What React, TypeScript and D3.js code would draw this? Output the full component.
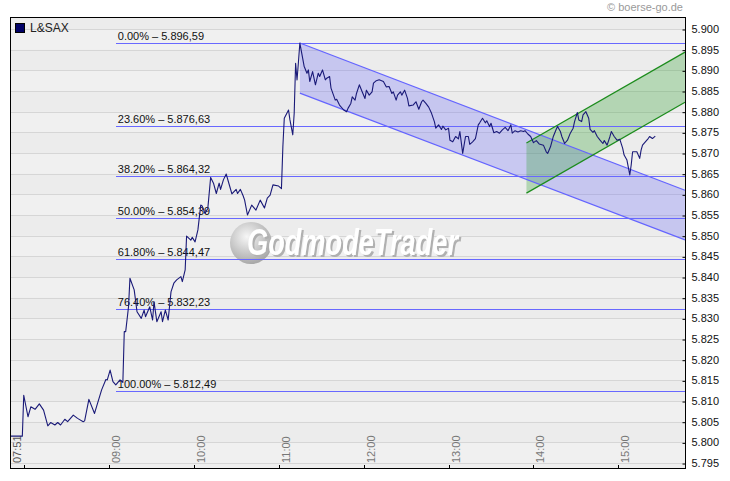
import { useEffect, useRef } from "react"
import * as d3 from "d3"

// L&SAX intraday
const times = [
  "07:51", "07:59", "08:00", "08:03", "08:05", "08:08", "08:11", "08:14", "08:17", "08:19",
  "08:22", "08:24", "08:26", "08:29", "08:31", "08:35", "08:38", "08:42", "08:43", "08:46",
  "08:50", "08:52", "08:55", "08:58", "08:59", "09:01", "09:03", "09:05", "09:08", "09:10",
  "09:11", "09:12", "09:14", "09:15", "09:18", "09:20", "09:23", "09:25", "09:26", "09:29",
  "09:31", "09:32", "09:34", "09:37", "09:38", "09:40", "09:42", "09:44", "09:46", "09:48",
  "09:51", "09:52", "09:54", "09:55", "09:58", "09:59", "10:01", "10:03", "10:05", "10:06",
  "10:08", "10:10", "10:12", "10:14", "10:16", "10:18", "10:19", "10:21", "10:23", "10:25",
  "10:27", "10:30", "10:31", "10:33", "10:35", "10:36", "10:38", "10:41", "10:44", "10:47",
  "10:50", "10:52", "10:54", "10:56", "11:00", "11:02", "11:03", "11:04", "11:07", "11:08",
  "11:10", "11:11", "11:12", "11:13", "11:14", "11:15", "11:17", "11:18", "11:20", "11:21",
  "11:22", "11:24", "11:26", "11:28", "11:29", "11:31", "11:33", "11:34", "11:36", "11:37",
  "11:40", "11:41", "11:43", "11:46", "11:48", "11:49", "11:51", "11:52", "11:54", "11:55",
  "11:57", "11:59", "12:01", "12:02", "12:04", "12:06", "12:07", "12:09", "12:11", "12:14",
  "12:16", "12:18", "12:20", "12:21", "12:23", "12:24", "12:26", "12:27", "12:29", "12:31",
  "12:32", "12:35", "12:36", "12:37", "12:39", "12:41", "12:42", "12:44", "12:46", "12:48",
  "12:50", "12:51", "12:53", "12:55", "12:56", "12:58", "13:00", "13:01", "13:03", "13:05",
  "13:07", "13:08", "13:10", "13:12", "13:14", "13:15", "13:17", "13:19", "13:21", "13:22",
  "13:24", "13:26", "13:27", "13:29", "13:30", "13:32", "13:34", "13:36", "13:38", "13:40",
  "13:42", "13:44", "13:45", "13:47", "13:49", "13:51", "13:53", "13:54", "13:56", "13:58",
  "14:00", "14:02", "14:04", "14:07", "14:09", "14:10", "14:12", "14:14", "14:16", "14:17",
  "14:19", "14:20", "14:22", "14:24", "14:26", "14:28", "14:29", "14:31", "14:32", "14:34",
  "14:35", "14:37", "14:39", "14:40", "14:42", "14:43", "14:45", "14:47", "14:49", "14:50",
  "14:52", "14:54", "14:55", "14:57", "14:59", "15:01", "15:03", "15:04", "15:06", "15:08",
  "15:09", "15:10", "15:13", "15:15", "15:16", "15:17", "15:19", "15:21", "15:22", "15:24",
  "15:26",
]
const prices = [
  5801.5, 5801.5, 5811.4, 5806.2, 5808.6, 5808.0, 5809.3, 5807.8, 5804.0, 5804.8,
  5804.2, 5804.8, 5804.2, 5805.6, 5805.0, 5806.6, 5805.8, 5805.0, 5805.2, 5810.4,
  5807.0, 5809.3, 5812.7, 5815.2, 5815.1, 5817.5, 5814.7, 5813.9, 5815.1, 5814.5,
  5826.8, 5826.8, 5832.8, 5839.7, 5836.9, 5831.6, 5830.0, 5832.0, 5830.4, 5832.8,
  5829.6, 5834.0, 5829.2, 5831.6, 5829.2, 5832.0, 5829.6, 5836.4, 5838.5, 5839.3,
  5840.1, 5838.9, 5841.7, 5849.9, 5848.9, 5849.6, 5848.5, 5851.4, 5857.4, 5857.2,
  5855.4, 5856.6, 5864.1, 5862.7, 5860.2, 5862.7, 5861.2, 5863.5, 5864.9, 5862.5,
  5860.1, 5861.2, 5860.2, 5861.2, 5859.6, 5858.6, 5855.0, 5857.4, 5856.2, 5858.6,
  5856.7, 5859.1, 5859.8, 5862.3, 5862.0, 5861.4, 5871.5, 5878.4, 5880.4, 5878.0,
  5874.4, 5879.6, 5891.7, 5887.7, 5892.0, 5896.6, 5892.9, 5891.0, 5889.3, 5890.1,
  5887.3, 5889.7, 5886.5, 5889.3, 5888.5, 5890.1, 5887.7, 5888.1, 5888.5, 5885.7,
  5882.8, 5883.0, 5881.6, 5880.4, 5880.0, 5880.8, 5882.0, 5883.6, 5882.8, 5884.4,
  5886.5, 5884.8, 5883.2, 5885.2, 5884.0, 5884.8, 5886.9, 5887.5, 5887.7, 5887.3,
  5886.0, 5886.1, 5884.4, 5884.8, 5882.8, 5884.0, 5884.8, 5884.0, 5885.2, 5883.2,
  5881.4, 5881.6, 5882.0, 5882.4, 5880.6, 5882.4, 5882.8, 5882.0, 5881.1, 5879.6,
  5877.6, 5876.0, 5876.8, 5875.7, 5876.5, 5875.6, 5876.0, 5873.1, 5872.7, 5874.0,
  5873.4, 5875.2, 5869.9, 5874.0, 5874.0, 5872.1, 5872.7, 5873.5, 5876.8, 5877.3,
  5878.4, 5877.3, 5877.8, 5876.4, 5877.2, 5874.9, 5875.2, 5874.8, 5875.6, 5876.2,
  5875.4, 5876.8, 5874.8, 5875.4, 5875.1, 5875.4, 5875.2, 5875.4, 5874.6, 5874.0,
  5872.5, 5873.0, 5872.2, 5871.9, 5870.3, 5869.9, 5871.5, 5874.0, 5875.7, 5876.4,
  5875.2, 5874.0, 5872.3, 5873.1, 5874.8, 5876.0, 5877.6, 5879.8, 5878.0, 5877.6,
  5879.2, 5880.0, 5878.4, 5875.7, 5875.0, 5875.4, 5874.0, 5873.1, 5872.3, 5873.0,
  5871.9, 5874.0, 5875.2, 5874.0, 5873.1, 5873.3, 5871.1, 5869.5, 5868.3, 5864.7,
  5867.1, 5870.3, 5870.3, 5868.7, 5870.7, 5871.9, 5872.7, 5873.5, 5874.0, 5873.5,
  5874.1,
]

// Fibonacci retracement levels
const fibLevels = ["0.00%", "23.60%", "38.20%", "50.00%", "61.80%", "76.40%", "100.00%"]
const fibValues = [5896.59, 5876.63, 5864.32, 5854.39, 5844.47, 5832.23, 5812.49]
const fibStart = "09:05"

// trend channels
const blueTimes = ["11:15", "15:47"]
const blueUpper = [5896.6, 5861.0]
const blueLower = [5884.5, 5849.0]
const greenTimes = ["13:55", "15:47"]
const greenUpper = [5872.4, 5894.4]
const greenLower = [5860.3, 5882.3]

const hourTicks = ["08:00", "09:00", "10:00", "11:00", "12:00", "13:00", "14:00", "15:00"]
const hourLabels = ["", "09:00", "10:00", "11:00", "12:00", "13:00", "14:00", "15:00"]
const startLabel = "07:51"
const endTime = "15:47"
const yTicks = d3.range(5795, 5901, 5)

const WIDTH = 730
const HEIGHT = 481
const FONT = "'Liberation Sans', Arial, sans-serif"

const toMin = (s: string) => {
  const [h, m] = s.split(":").map(Number)
  return h * 60 + m
}

const de = d3.formatLocale({ decimal: ",", thousands: ".", grouping: [3], currency: ["", "€"] })
const fmtTick = de.format(",.0f")
const fmtFib = de.format(",.2f")

const App = () => {
  const svgRef = useRef<SVGSVGElement | null>(null)

  useEffect(() => {
    const margin = { top: 18, right: 685, bottom: 468, left: 11 }
    const svg = d3.select(svgRef.current)
    svg.selectAll("*").remove()

    const x = d3
      .scaleLinear()
      .domain([toMin(startLabel), toMin(endTime)])
      .range([margin.left, margin.right])
    const y = d3.scaleLinear().domain([5793.8, 5902.66]).range([margin.bottom, margin.top])
    const py = (v: number) => Math.round(y(v)) + 0.5

    // plot background with faint bands
    svg
      .append("rect")
      .attr("x", margin.left)
      .attr("y", margin.top)
      .attr("width", margin.right - margin.left)
      .attr("height", margin.bottom - margin.top)
      .attr("fill", "#eeeeee")

    svg
      .append("g")
      .selectAll("rect")
      .data(yTicks)
      .enter()
      .append("rect")
      .attr("x", margin.left)
      .attr("y", (d) => Math.max(margin.top, y(d + 5)))
      .attr("width", margin.right - margin.left)
      .attr("height", (d) => y(d) - Math.max(margin.top, y(d + 5)))
      .attr("fill", (_, i) => (i % 2 ? "#ececec" : "#f0f0f0"))

    // grid
    svg
      .append("g")
      .attr("shape-rendering", "crispEdges")
      .selectAll("line")
      .data(yTicks)
      .enter()
      .append("line")
      .attr("x1", margin.left)
      .attr("x2", margin.right)
      .attr("y1", (d) => py(d))
      .attr("y2", (d) => py(d))
      .attr("stroke", "#d6d6d6")

    // watermark
    const defs = svg.append("defs")
    const grad = defs
      .append("radialGradient")
      .attr("id", "wm")
      .attr("cx", "40%")
      .attr("cy", "35%")
      .attr("r", "65%")
    grad.append("stop").attr("offset", "0%").attr("stop-color", "#f6f6f6")
    grad.append("stop").attr("offset", "100%").attr("stop-color", "#a9a9a9")
    defs
      .append("filter")
      .attr("id", "wmShadow")
      .append("feDropShadow")
      .attr("dx", 2)
      .attr("dy", 2)
      .attr("stdDeviation", 0.6)
      .attr("flood-color", "#b0b0b0")
    const wm = svg.append("g")
    wm.append("circle").attr("cx", 251).attr("cy", 243).attr("r", 21).attr("fill", "url(#wm)")
    wm.append("text")
      .attr("x", 247)
      .attr("y", 255)
      .attr("textLength", 211)
      .attr("lengthAdjust", "spacingAndGlyphs")
      .attr("font-family", FONT)
      .attr("font-style", "italic")
      .attr("font-weight", "bold")
      .attr("font-size", 37)
      .attr("fill", "#ffffff")
      .attr("filter", "url(#wmShadow)")
      .text("GodmodeTrader")

    // channel fills
    const area = d3.area<number>().x((d) => x(d))
    svg
      .append("path")
      .attr(
        "d",
        area
          .y0((_, i) => y(blueLower[i]))
          .y1((_, i) => y(blueUpper[i]))(blueTimes.map(toMin))
      )
      .attr("fill", "rgba(110,110,245,0.3)")
    svg
      .append("path")
      .attr(
        "d",
        area
          .y0((_, i) => y(greenLower[i]))
          .y1((_, i) => y(greenUpper[i]))(greenTimes.map(toMin))
      )
      .attr("fill", "rgba(40,160,40,0.29)")

    // fibonacci lines
    svg
      .append("g")
      .attr("shape-rendering", "crispEdges")
      .selectAll("line")
      .data(fibValues)
      .enter()
      .append("line")
      .attr("x1", x(toMin(fibStart)))
      .attr("x2", margin.right)
      .attr("y1", (d) => py(d))
      .attr("y2", (d) => py(d))
      .attr("stroke", "#6868ff")

    // channel lines
    const line = d3.line<number>()
    const chan = (ts: string[], vs: number[], color: string) =>
      svg
        .append("path")
        .attr("d", line.x((d) => x(d)).y((_, i) => y(vs[i]))(ts.map(toMin)))
        .attr("fill", "none")
        .attr("stroke", color)
        .attr("stroke-width", 1.2)
    chan(blueTimes, blueUpper, "#6464ff")
    chan(blueTimes, blueLower, "#6464ff")
    chan(greenTimes, greenUpper, "#1c8c1c")
    chan(greenTimes, greenLower, "#1c8c1c")

    // fibonacci labels
    svg
      .append("g")
      .selectAll("text")
      .data(fibValues)
      .enter()
      .append("text")
      .attr("x", x(toMin(fibStart)) + 2)
      .attr("y", (d) => py(d) - 4)
      .attr("font-family", FONT)
      .attr("font-size", 11)
      .attr("fill", "#111")
      .text((d, i) => `${fibLevels[i]} – ${fmtFib(d)}`)

    // x axis labels (rotated, inside plot)
    svg
      .append("g")
      .selectAll("text")
      .data(hourTicks)
      .enter()
      .append("text")
      .attr("transform", (d) => `translate(${x(toMin(d)) + 11},463) rotate(-90)`)
      .attr("font-family", FONT)
      .attr("font-size", 11)
      .attr("fill", "#777")
      .text((_, i) => hourLabels[i])
    svg
      .append("text")
      .attr("transform", `translate(${x(toMin(startLabel)) + 10},463) rotate(-90)`)
      .attr("font-family", FONT)
      .attr("font-size", 11)
      .attr("fill", "#555")
      .text(startLabel)

    // price line
    svg
      .append("path")
      .attr(
        "d",
        d3
          .line<number>()
          .x((_, i) => x(toMin(times[i])))
          .y((d) => y(d))(prices)
      )
      .attr("fill", "none")
      .attr("stroke", "#1a1a78")
      .attr("stroke-width", 1.1)
      .attr("stroke-linejoin", "round")

    // frame
    svg
      .append("rect")
      .attr("x", margin.left - 0.5)
      .attr("y", margin.top - 0.5)
      .attr("width", margin.right - margin.left + 1)
      .attr("height", margin.bottom - margin.top + 1)
      .attr("fill", "none")
      .attr("stroke", "#000")

    // x ticks
    svg
      .append("g")
      .selectAll("line")
      .data(hourTicks)
      .enter()
      .append("line")
      .attr("x1", (d) => Math.round(x(toMin(d))) + 0.5)
      .attr("x2", (d) => Math.round(x(toMin(d))) + 0.5)
      .attr("y1", margin.bottom - 3)
      .attr("y2", margin.bottom)
      .attr("stroke", "#000")

    // y axis
    const yAxis = d3
      .axisRight(y)
      .tickValues(yTicks)
      .tickSize(-3)
      .tickSizeOuter(0)
      .tickPadding(6)
      .tickFormat((d) => fmtTick(Number(d)))
    const ga = svg
      .append("g")
      .attr("transform", `translate(${margin.right + 0.5},0)`)
      .call(yAxis)
    ga.select(".domain").remove()
    ga.selectAll("line").attr("transform", "translate(0,0.5)")
    ga.selectAll("text")
      .attr("font-family", FONT)
      .attr("font-size", 11)
      .attr("fill", "#111")

    // legend
    svg
      .append("rect")
      .attr("x", 15.5)
      .attr("y", 23.5)
      .attr("width", 9)
      .attr("height", 9)
      .attr("fill", "#000066")
      .attr("stroke", "#000")
    svg
      .append("text")
      .attr("x", 30)
      .attr("y", 32)
      .attr("font-family", FONT)
      .attr("font-size", 12)
      .attr("fill", "#222")
      .text("L&SAX")

    // copyright
    svg
      .append("text")
      .attr("x", 683)
      .attr("y", 11)
      .attr("text-anchor", "end")
      .attr("font-family", FONT)
      .attr("font-size", 11)
      .attr("fill", "#9a9a9a")
      .text("© boerse-go.de")
  }, [])

  return (
    <svg
      ref={svgRef}
      width={WIDTH}
      height={HEIGHT}
      style={{ position: "absolute", left: 0, top: 0, background: "#fff" }}
    />
  )
}

export default App
